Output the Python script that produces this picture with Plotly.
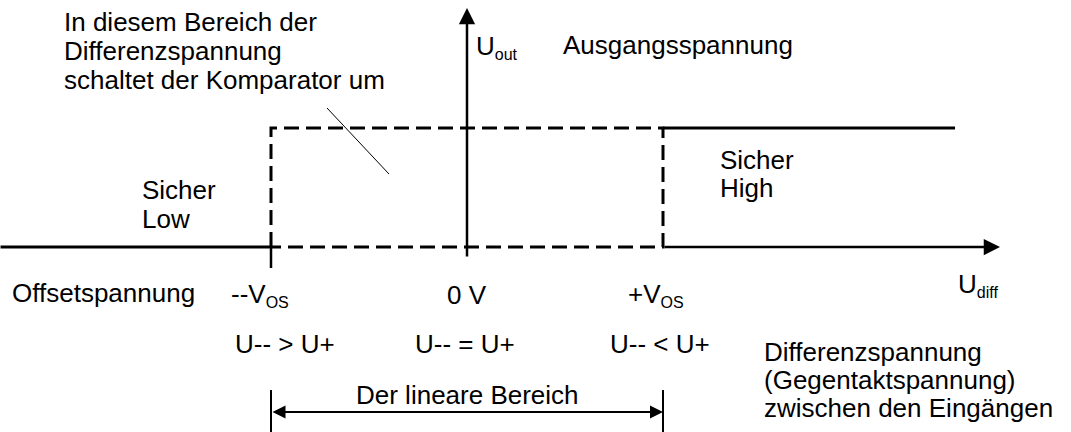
import plotly.graph_objects as go

# ---- data (abstract units: V_OS = 1, Low = 0, High = 1) ----
vos = 1.0
u_low = 0.0
u_high = 1.0
x_left_end = -2.38
x_right_end = 2.49
low_x = [x_left_end, -vos]
low_y = [u_low, u_low]
high_x = [vos, x_right_end]
high_y = [u_high, u_high]
rect_x = [-vos, -vos, vos, vos, -vos]
rect_y = [u_low, u_high, u_high, u_low, u_low]
SUB = "<sub><span style='font-size:16px'>{}</span></sub>"
tick_labels = ["--V" + SUB.format("OS"), "0 V", "+V" + SUB.format("OS")]
tick_vals = [-vos, 0.0, vos]
relation_labels = ["U-- > U+", "U-- = U+", "U-- < U+"]

W, H = 1071, 432
X0, XS = 467.0, 196.0   # pixel of 0, pixels per unit
Y0, YS = 247.0, 119.0


def px2x(p):
    return (p - X0) / XS


def px2y(p):
    return (Y0 - p) / YS


FONT = "Liberation Sans, Arial, sans-serif"
FS = 26
BLACK = "#000000"

fig = go.Figure()
fig.add_trace(go.Scatter(x=low_x, y=low_y, mode="lines",
                         line=dict(color=BLACK, width=3), hoverinfo="skip"))
fig.add_trace(go.Scatter(x=high_x, y=high_y, mode="lines",
                         line=dict(color=BLACK, width=3), hoverinfo="skip"))
fig.add_trace(go.Scatter(x=rect_x, y=rect_y, mode="lines",
                         line=dict(color=BLACK, width=3, dash="15px,7px"),
                         hoverinfo="skip"))
# tick below axis at -V_OS
fig.add_trace(go.Scatter(x=[-vos, -vos], y=[u_low, px2y(268)], mode="lines",
                         line=dict(color=BLACK, width=2.5), hoverinfo="skip"))
# pointer line
fig.add_trace(go.Scatter(x=[px2x(327), px2x(389)], y=[px2y(108), px2y(174)],
                         mode="lines", line=dict(color=BLACK, width=1),
                         hoverinfo="skip"))
# bracket ticks of linear range
for xv in [-vos, vos]:
    fig.add_trace(go.Scatter(x=[xv, xv], y=[px2y(390), px2y(440)], mode="lines",
                             line=dict(color=BLACK, width=2), hoverinfo="skip"))

anns = []
# horizontal axis arrow (right part)
anns.append(dict(x=px2x(1000), y=u_low, ax=vos, ay=u_low, xref="x", yref="y",
                 axref="x", ayref="y", showarrow=True, arrowhead=2,
                 arrowsize=1.3, arrowwidth=2.5, arrowcolor=BLACK, text=""))
# vertical axis arrow
anns.append(dict(x=0, y=px2y(8), ax=0, ay=px2y(258), xref="x", yref="y",
                 axref="x", ayref="y", showarrow=True, arrowhead=2,
                 arrowsize=1.3, arrowwidth=2.5, arrowcolor=BLACK, text=""))
# double arrow linear range
anns.append(dict(x=vos, y=px2y(412), ax=-vos, ay=px2y(412), xref="x", yref="y",
                 axref="x", ayref="y", showarrow=True, arrowhead=2,
                 arrowside="end+start", startarrowhead=2,
                 arrowsize=1.3, startarrowsize=1.3, arrowwidth=2,
                 arrowcolor=BLACK, text=""))


def txt(s, xp, yp, anchor="left", size=FS):
    anns.append(dict(text=s, x=px2x(xp), y=px2y(yp), xref="x", yref="y",
                     showarrow=False, xanchor=anchor, yanchor="middle",
                     font=dict(family=FONT, size=size, color=BLACK)))


txt("In diesem Bereich der", 62, 22)
txt("Differenzspannung", 62, 51)
txt("schaltet der Komparator um", 62, 80)
txt("U" + SUB.format("out"), 474, 47)
txt("Ausgangsspannung", 561, 45)
txt("Sicher", 140, 190)
txt("Low", 140, 219)
txt("Sicher", 718, 160)
txt("High", 718, 188)
txt("Offsetspannung", 10, 293)
txt("U" + SUB.format("diff"), 956, 285)
tick_px = [229, 467, 626]
tick_anchor = ["left", "center", "left"]
for lab, xp, an in zip(tick_labels, tick_px, tick_anchor):
    txt(lab, xp, 295, an)
relation_px = [285, 465, 660]
for lab, xp in zip(relation_labels, relation_px):
    txt(lab, xp, 344, "center")
txt("Differenzspannung", 762, 352)
txt("(Gegentaktspannung)", 762, 380)
txt("zwischen den Eingängen", 762, 408)
txt("Der lineare Bereich", 467, 395, anchor="center")

fig.update_layout(
    width=W, height=H, margin=dict(l=0, r=0, t=0, b=0),
    paper_bgcolor="white", plot_bgcolor="white", showlegend=False,
    xaxis=dict(range=[px2x(0), px2x(W)], visible=False, fixedrange=True),
    yaxis=dict(range=[px2y(H), px2y(0)], visible=False, fixedrange=True),
    annotations=anns,
)
fig.write_html("out.html",
               post_script="document.body.style.margin='0px';"
                           "document.body.style.overflow='hidden';",
               config={"displayModeBar": False})
